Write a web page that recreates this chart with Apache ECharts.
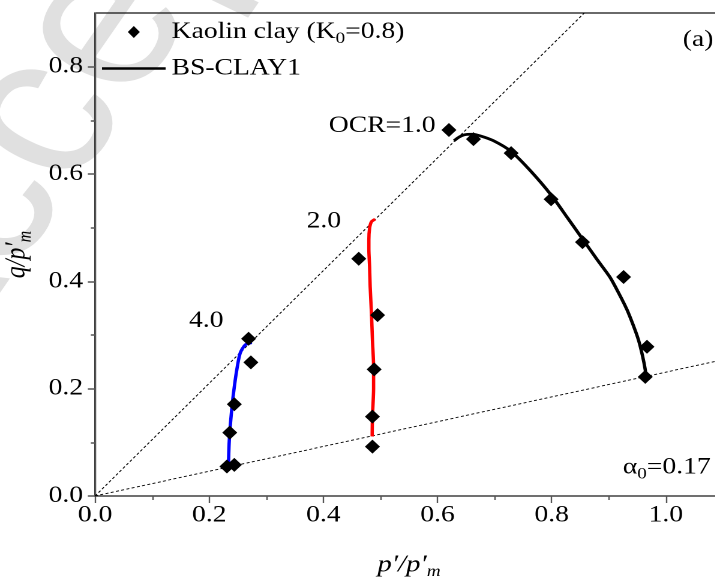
<!DOCTYPE html>
<html>
<head>
<meta charset="utf-8">
<script src="https://cdn.jsdelivr.net/npm/echarts@6/dist/echarts.min.js"></script>
<style>
  html, body { margin: 0; padding: 0; background: #fff; overflow: hidden; }
  #chart { width: 596px; height: 581px; transform: scaleX(1.2); transform-origin: 0 0; }
</style>
</head>
<body>
<div id="chart"></div>
<script>
// ---- data (p'/p'm , q/p'm) ----
const xMax = 1.1;
const yMax = 0.9;
const xTicks = [0, 0.2, 0.4, 0.6, 0.8, 1.0];
const xMinorTicks = [0.1, 0.3, 0.5, 0.7, 0.9];
const yTicks = [0, 0.2, 0.4, 0.6, 0.8];
const yMinorTicks = [0.1, 0.3, 0.5, 0.7];

// Experimental points (Kaolin clay, K0 = 0.8)
const expOCR1 = [[0.620,0.682],[0.663,0.665],[0.729,0.639],[0.799,0.553],[0.854,0.473],[0.926,0.408],[0.967,0.278],[0.964,0.222]];
const expOCR2 = [[0.462,0.442],[0.495,0.337],[0.489,0.236],[0.486,0.148],[0.486,0.092]];
const expOCR4 = [[0.269,0.293],[0.273,0.249],[0.244,0.171],[0.236,0.118],[0.231,0.055],[0.244,0.058]];

// BS-CLAY1 simulations
const simOCR1 = [[0.965,0.222],[0.964,0.235],[0.959,0.262],[0.952,0.291],[0.943,0.318],[0.932,0.347],[0.918,0.377],[0.902,0.408],[0.880,0.440],[0.856,0.476],[0.828,0.518],[0.799,0.561],[0.762,0.607],[0.729,0.642],[0.698,0.662],[0.675,0.671],[0.660,0.674],[0.647,0.673],[0.638,0.669],[0.629,0.662]];
const simOCR2 = [[0.4855,0.111],[0.486,0.148],[0.488,0.200],[0.488,0.241],[0.486,0.290],[0.4843,0.340],[0.482,0.390],[0.481,0.427],[0.4797,0.460],[0.4797,0.477],[0.481,0.499],[0.4843,0.511],[0.4908,0.5157]];
const simOCR4 = [[0.2337,0.055],[0.2349,0.098],[0.2378,0.142],[0.2425,0.191],[0.2483,0.235],[0.2542,0.266],[0.2630,0.2815],[0.2746,0.2858]];

// Reference lines through the origin
const cslSlope = 1.05;     // critical state line
const k0Slope = 0.2308;    // K0 line (alpha0 = 0.17)
const cslLine = [[0, 0], [yMax / cslSlope, yMax]];
const k0Line = [[0, 0], [xMax, k0Slope * xMax]];

const expName = 'Kaolin clay (K0=0.8)';
const simName = 'BS-CLAY1';

// ---- chart ----
const FONT = "Liberation Serif";
const chart = echarts.init(document.getElementById('chart'), null, { renderer: 'canvas', devicePixelRatio: 2 });

const richBase = {
  a: { fontFamily: FONT, fontSize: 23, lineHeight: 30, color: '#000' },
  s: { fontFamily: FONT, fontSize: 16, lineHeight: 16, padding: [14, 0, 0, 0], color: '#000' }
};
const richItalic = {
  i: { fontFamily: FONT, fontSize: 24, fontStyle: 'italic', lineHeight: 30, color: '#000' },
  s: { fontFamily: FONT, fontSize: 16, fontStyle: 'italic', lineHeight: 16, padding: [14, 0, 0, 0], color: '#000' }
};

const axisTextStyle = { fontFamily: FONT, fontSize: 23, color: '#000' };

function refLine(name, data) {
  return {
    name: name, type: 'line', data: data, symbol: 'none', silent: true,
    lineStyle: { color: '#000', width: 0.9, type: [2.5, 2] }, z: 1
  };
}
function simLine(name, data, color) {
  return {
    name: name, type: 'line', data: data, symbol: 'none', smooth: 0.25,
    lineStyle: { color: color, width: 2.8 }, itemStyle: { color: color }, z: 2
  };
}
function expScatter(data) {
  return {
    name: expName, type: 'scatter', data: data, symbol: 'diamond', symbolSize: [12.5, 14],
    itemStyle: { color: '#000', opacity: 1 }, z: 3
  };
}

function annot(x, y, text, rich) {
  const style = { text: text, fill: '#000', textAlign: 'left', textVerticalAlign: 'middle' };
  if (rich) { style.rich = rich; } else { style.font = '23px "' + FONT + '"'; }
  return { type: 'text', x: x, y: y, z: 50, style: style };
}

const option = {
  animation: false,
  backgroundColor: '#fff',
  grid: {
    left: 79.2, top: 13, width: 523.2, height: 483,
    show: true, borderColor: '#111', borderWidth: 1.3, backgroundColor: 'transparent',
    containLabel: false, outerBoundsMode: 'none'
  },
  legend: {
    orient: 'vertical', left: 85, top: 17, padding: 0, itemGap: 10,
    itemWidth: 53, itemHeight: 12, selectedMode: false, symbolKeepAspect: true,
    data: [
      { name: expName, icon: 'path://M5,0L10,6L5,12L0,6Z', itemStyle: { color: '#000' } },
      { name: simName, icon: 'path://M0,0H53V2.6H0Z', itemStyle: { color: '#000' } }
    ],
    formatter: function (n) {
      return n === expName ? '{a|Kaolin clay (K}{s|0}{a|=0.8)}' : '{a|' + n + '}';
    },
    textStyle: { fontFamily: FONT, fontSize: 23, color: '#000', rich: richBase }
  },
  xAxis: [
    {
      type: 'value', min: 0, max: xMax, interval: 0.2,
      name: '{i|p′/p′}{s|m}', nameLocation: 'middle', nameGap: 54,
      nameTextStyle: { fontFamily: FONT, rich: richItalic },
      axisLine: { show: true, onZero: false, lineStyle: { color: '#555', width: 1.5 } },
      axisTick: { show: true, inside: false, length: 7, customValues: xTicks, lineStyle: { color: '#555', width: 1.2 } },
      axisLabel: { show: true, margin: 8, customValues: xTicks, formatter: v => v.toFixed(1), ...axisTextStyle },
      splitLine: { show: false }
    },
    {
      type: 'value', min: 0, max: xMax, position: 'bottom',
      axisLine: { show: false },
      axisTick: { show: true, inside: false, length: 4, customValues: xMinorTicks, lineStyle: { color: '#555', width: 1.2 } },
      axisLabel: { show: false },
      splitLine: { show: false }
    }
  ],
  yAxis: [
    {
      type: 'value', min: 0, max: yMax, interval: 0.2,
      name: '{i|q/p′}{s|m}', nameLocation: 'middle', nameGap: 50, nameRotate: 90,
      nameTextStyle: { fontFamily: FONT, rich: richItalic },
      axisLine: { show: true, onZero: false, lineStyle: { color: '#555', width: 1.3 } },
      axisTick: { show: true, inside: false, length: 6, customValues: yTicks, lineStyle: { color: '#555', width: 1.5 } },
      axisLabel: { show: true, margin: 10, customValues: yTicks, formatter: v => v.toFixed(1), ...axisTextStyle },
      splitLine: { show: false }
    },
    {
      type: 'value', min: 0, max: yMax, position: 'left',
      axisLine: { show: false },
      axisTick: { show: true, inside: false, length: 3.5, customValues: yMinorTicks, lineStyle: { color: '#555', width: 1.5 } },
      axisLabel: { show: false },
      splitLine: { show: false }
    }
  ],
  graphic: [
    {
      type: 'text', x: -106, y: 366, rotation: 60 * Math.PI / 180, z: -10, silent: true,
      style: { text: 'Accepted Manuscript', font: '200px "Liberation Sans"', fill: '#e0e0e0', textAlign: 'left', textVerticalAlign: 'middle' }
    },
    annot(274, 126, 'OCR=1.0'),
    annot(255.5, 221.5, '2.0'),
    annot(157.5, 321, '4.0'),
    annot(569, 40, '(a)'),
    annot(519, 467.5, '{a|α}{s|0}{a|=0.17}', richBase)
  ],
  series: [
    refLine('CSL', cslLine),
    refLine('K0 line', k0Line),
    simLine(simName, simOCR1, '#000000'),
    simLine('BS-CLAY1 OCR=2.0', simOCR2, '#ff0000'),
    simLine('BS-CLAY1 OCR=4.0', simOCR4, '#0000ff'),
    expScatter(expOCR1),
    expScatter(expOCR2),
    expScatter(expOCR4)
  ]
};
chart.setOption(option);
</script>
</body>
</html>
